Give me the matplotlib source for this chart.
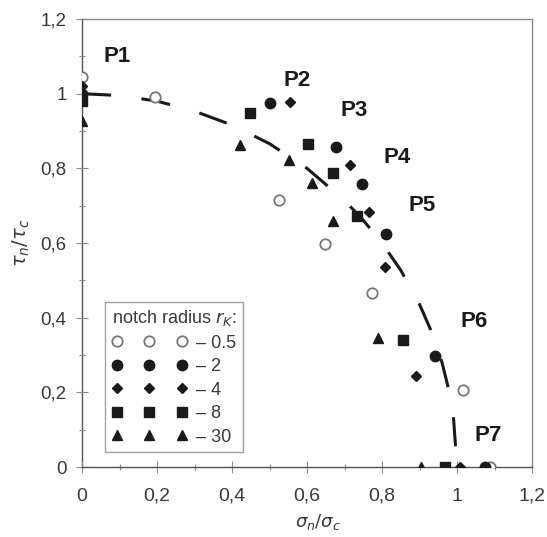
import matplotlib
matplotlib.use("Agg")
import matplotlib.pyplot as plt
from matplotlib.ticker import MultipleLocator, FixedLocator
from matplotlib.lines import Line2D

plt.rcParams['font.family'] = ['Liberation Sans', 'DejaVu Sans']
plt.rcParams['lines.scale_dashes'] = False

# ---- data ----
r05_x = [0.0, 0.195, 0.524, 0.648, 0.772, 1.017, 1.088]
r05_y = [1.045, 0.99, 0.716, 0.598, 0.467, 0.206, 0.0]

r2_x = [0.0, 0.50, 0.676, 0.746, 0.811, 0.941, 1.075]
r2_y = [1.0, 0.974, 0.857, 0.759, 0.624, 0.298, 0.0]

r4_x = [0.0, 0.555, 0.715, 0.765, 0.809, 0.890, 1.008]
r4_y = [1.02, 0.977, 0.808, 0.682, 0.535, 0.245, 0.0]

r8_x = [0.0, 0.448, 0.603, 0.670, 0.732, 0.857, 0.968]
r8_y = [0.98, 0.948, 0.865, 0.787, 0.673, 0.340, 0.0]

r30_x = [0.0, 0.421, 0.552, 0.612, 0.670, 0.788, 0.903]
r30_y = [0.926, 0.863, 0.823, 0.760, 0.658, 0.345, 0.0]

curve_x = [0.0, 0.1, 0.2, 0.3, 0.4, 0.5, 0.6, 0.7, 0.75, 0.8, 0.85, 0.9, 0.93, 0.96, 0.98, 0.99, 1.0]
curve_y = [1.0, 0.995, 0.98, 0.953, 0.916, 0.866, 0.80, 0.714, 0.661, 0.60, 0.527, 0.436, 0.367, 0.28, 0.199, 0.141, 0.0]

point_labels = ['P1', 'P2', 'P3', 'P4', 'P5', 'P6', 'P7']
label_x = [0.093, 0.573, 0.725, 0.84, 0.907, 1.045, 1.083]
label_y = [1.10, 1.035, 0.954, 0.828, 0.70, 0.39, 0.085]

legend_labels = ['\u2013 0.5', '\u2013 2', '\u2013 4', '\u2013 8', '\u2013 30']
x_ticks = [0, 0.2, 0.4, 0.6, 0.8, 1.0, 1.2]
x_ticklabels = ['0', '0,2', '0,4', '0,6', '0,8', '1', '1,2']
y_ticks = [0, 0.2, 0.4, 0.6, 0.8, 1.0, 1.2]
y_ticklabels = ['0', '0,2', '0,4', '0,6', '0,8', '1', '1,2']

# ---- figure ----
fig = plt.figure(figsize=(5.47, 5.37), dpi=100)
ax = fig.add_axes([82/547, 1-467/537, 450/547, 448/537])

ink = '#1a1a1a'
frame = '#8a8a8a'
txt = '#3a3a3a'

ax.plot(curve_x, curve_y, color=ink, lw=2.2, dashes=(21, 22), solid_capstyle='butt',
        dash_capstyle='butt', zorder=2)

ms_c = 7.5
ms_d = 5.5
ms_s = 7
ms_t = 7
ax.plot(r05_x, r05_y, ls='none', marker='o', ms=ms_c, mfc='white', mec='#777777', mew=1.3, zorder=3)
ax.plot(r2_x, r2_y, ls='none', marker='o', ms=ms_c, mfc=ink, mec=ink, zorder=4)
ax.plot(r4_x, r4_y, ls='none', marker='D', ms=ms_d, mfc=ink, mec=ink, zorder=5)
ax.plot(r8_x, r8_y, ls='none', marker='s', ms=ms_s, mfc=ink, mec=ink, zorder=4)
ax.plot(r30_x, r30_y, ls='none', marker='^', ms=ms_t, mfc=ink, mec=ink, zorder=4)

for t, x, y in zip(point_labels, label_x, label_y):
    ax.text(x, y, t, ha='center', va='center', fontsize=16, fontweight='bold', color=ink)

ax.set_xlim(0, 1.2)
ax.set_ylim(0, 1.2)
ax.xaxis.set_major_locator(FixedLocator(x_ticks))
ax.set_xticklabels(x_ticklabels)
ax.yaxis.set_major_locator(FixedLocator(y_ticks))
ax.set_yticklabels(y_ticklabels)
ax.xaxis.set_minor_locator(MultipleLocator(0.1))
ax.yaxis.set_minor_locator(MultipleLocator(0.1))
ax.tick_params(which='major', direction='inout', length=8, width=0.8, color=frame,
               labelsize=14, labelcolor=txt)
ax.tick_params(axis='x', which='major', pad=11)
ax.tick_params(axis='y', which='major', pad=7, labelsize=13.5)
ax.tick_params(which='minor', direction='inout', length=5, width=0.8, color=frame)
for s in ax.spines.values():
    s.set_color(frame)
    s.set_linewidth(1.0)
ax.spines['left'].set_color('#555555')
ax.spines['bottom'].set_color('#555555')
ax.spines['left'].set_zorder(1)

ax.set_xlabel(r'$\sigma_n/\sigma_c$', fontsize=13, color=txt)
ax.xaxis.set_label_coords(0.525, -0.1)
ax.set_ylabel(r'$\tau_n/\tau_c$', fontsize=14, color=txt, labelpad=6)

handles = [
    Line2D([], [], ls='none', marker='o', ms=ms_c, mfc='white', mec='#777777', mew=1.3),
    Line2D([], [], ls='none', marker='o', ms=ms_c, mfc=ink, mec=ink),
    Line2D([], [], ls='none', marker='D', ms=ms_d, mfc=ink, mec=ink),
    Line2D([], [], ls='none', marker='s', ms=ms_s, mfc=ink, mec=ink),
    Line2D([], [], ls='none', marker='^', ms=ms_t, mfc=ink, mec=ink),
]
leg = ax.legend(handles, legend_labels, title=r'notch radius $r_K$:', numpoints=3,
                handlelength=4.2, handletextpad=0.5, labelspacing=0.36,
                loc='lower left', bbox_to_anchor=(0.051, 0.0335), borderaxespad=0,
                fontsize=13, title_fontsize=13, frameon=True, fancybox=False,
                borderpad=0.35)
leg.get_frame().set_edgecolor(frame)
leg.get_frame().set_linewidth(1.0)
for t in leg.get_texts():
    t.set_color(txt)
leg.get_title().set_color(txt)

fig.savefig('out.png', dpi=100)
